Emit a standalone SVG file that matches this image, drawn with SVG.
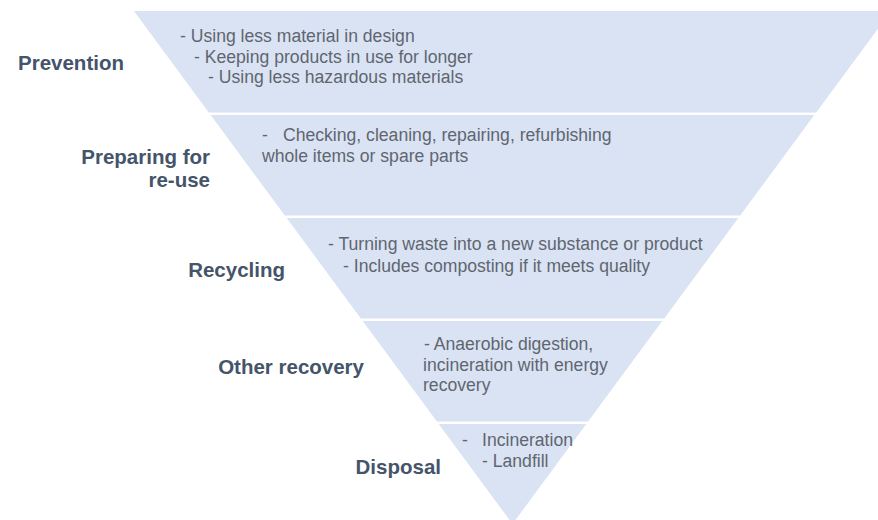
<svg xmlns="http://www.w3.org/2000/svg" width="878" height="520" viewBox="0 0 878 520">
<style>
.band{fill:#dae3f3;}
.lbl{font-family:"Liberation Sans",Arial,sans-serif;font-weight:bold;font-size:20.5px;fill:#44546a;}
.txt{font-family:"Liberation Sans",Arial,sans-serif;font-size:17.6px;fill:#5f6670;}
</style>
<rect width="878" height="520" fill="#ffffff"/>
<g id="prevention">
<polygon class="band" points="133.9,11 891.1,11 816.2,112.5 208.8,112.5"/>
<text class="lbl" x="18" y="70">Prevention</text>
<text class="txt" x="180" y="42">- Using less material in design</text>
<text class="txt" x="194" y="62.5">- Keeping products in use for longer</text>
<text class="txt" x="208" y="83">- Using less hazardous materials</text>
</g>
<g id="preparing">
<polygon class="band" points="210.7,115 814.3,115 740.2,215.5 284.8,215.5"/>
<text class="lbl" text-anchor="end" x="210" y="164">Preparing for</text>
<text class="lbl" text-anchor="end" x="210" y="187">re-use</text>
<text class="txt" y="140.5"><tspan x="262">-</tspan><tspan x="283">Checking, cleaning, repairing, refurbishing</tspan></text>
<text class="txt" x="262" y="161.5">whole items or spare parts</text>
</g>
<g id="recycling">
<polygon class="band" points="286.7,218 738.3,218 664.2,318.5 360.8,318.5"/>
<text class="lbl" text-anchor="end" x="285" y="277">Recycling</text>
<text class="txt" x="328" y="250">- Turning waste into a new substance or product</text>
<text class="txt" x="343" y="272">- Includes composting if it meets quality</text>
</g>
<g id="other-recovery">
<polygon class="band" points="362.7,321 662.3,321 588.1,421.5 436.9,421.5"/>
<text class="lbl" text-anchor="end" x="364" y="374">Other recovery</text>
<text class="txt" x="424" y="349.5">- Anaerobic digestion,</text>
<text class="txt" x="423" y="370.5">incineration with energy</text>
<text class="txt" x="423" y="391">recovery</text>
</g>
<g id="disposal">
<polygon class="band" points="438.7,424 586.3,424 512.5,524"/>
<text class="lbl" text-anchor="end" x="441" y="474">Disposal</text>
<text class="txt" y="445.5"><tspan x="462">-</tspan><tspan x="482">Incineration</tspan></text>
<text class="txt" x="482" y="466.5">- Landfill</text>
</g>
<g id="connectors"/>
</svg>
